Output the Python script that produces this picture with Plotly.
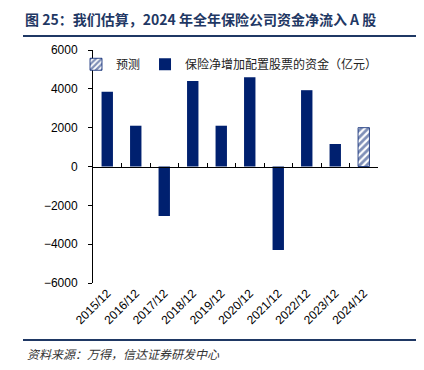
import plotly.graph_objects as go

categories = ["2015/12", "2016/12", "2017/12", "2018/12", "2019/12",
              "2020/12", "2021/12", "2022/12", "2023/12", "2024/12"]
actual_values = [3850, 2100, -2550, 4400, 2100, 4600, -4300, 3930, 1160, None]
forecast_values = [None, None, None, None, None, None, None, None, None, 2000]
y_ticks = [-6000, -4000, -2000, 0, 2000, 4000, 6000]

NAVY = "#00206F"
LINE_NAVY = "#1F3864"
CJK = "Noto Sans CJK SC"
LAT = "Liberation Sans"

# page body adds an 8px offset; lay out in a 416x362 frame
W, H = 416, 362
L, R, T, B = 85, 46, 42, 87
PW, PH = W - L - R, H - T - B

fig = go.Figure()
fig.add_trace(go.Bar(
    x=categories, y=forecast_values, name="预测", width=0.4,
    marker=dict(color="white", line=dict(color=NAVY, width=0.8),
                pattern=dict(shape="/", fgcolor=NAVY, bgcolor="white",
                             size=5, solidity=0.55)),
    legendrank=1,
))
fig.add_trace(go.Bar(
    x=categories, y=actual_values, name="保险净增加配置股票的资金（亿元）",
    width=0.4, marker=dict(color=NAVY, line=dict(width=0)),
    legendrank=2,
))
# helper trace so the zero-line axis (ticks between categories) is drawn
fig.add_trace(go.Scatter(x=[None], y=[None], xaxis="x2", showlegend=False,
                         hoverinfo="skip"))

ymin, ymax = y_ticks[0], y_ticks[-1]
zero_pos = (0 - ymin) / (ymax - ymin)
n = len(categories)

fig.update_layout(
    width=W, height=H,
    margin=dict(l=L, r=R, t=T, b=B, autoexpand=False),
    paper_bgcolor="white", plot_bgcolor="white",
    barmode="overlay",
    showlegend=True,
    legend=dict(orientation="h", x=(68 - L) / PW, xanchor="left",
                y=1.001, yanchor="top",
                font=dict(family=CJK, size=12, color="#222"),
                bgcolor="rgba(0,0,0,0)", traceorder="normal"),
    title=dict(text="<b>图 25：我们估算，2024 年全年保险公司资金净流入 A 股</b>",
               x=17 / W, xanchor="left", y=1 - 12 / H, yanchor="middle",
               font=dict(family=CJK, size=14, color=LINE_NAVY)),
    xaxis=dict(type="category", range=[-0.5, n - 0.5], showline=False,
               ticks="", tickangle=-45, showgrid=False, zeroline=False,
               automargin=False,
               tickfont=dict(family=LAT, size=12, color="black")),
    xaxis2=dict(overlaying="x", anchor="free", position=zero_pos,
                side="bottom", range=[-0.5, n - 0.5], showline=True,
                linecolor="black", linewidth=1, ticks="inside", ticklen=4,
                tickcolor="black", tickvals=[i + 0.5 for i in range(n)],
                showticklabels=False, showgrid=False, zeroline=False,
                automargin=False),
    yaxis=dict(range=[ymin, ymax], tickvals=y_ticks, showline=True,
               linecolor="black", linewidth=1, ticks="outside", ticklen=4,
               tickcolor="black", showgrid=False, zeroline=False,
               automargin=False,
               tickfont=dict(family=LAT, size=12, color="black"),
               ticklabelstandoff=8),
    shapes=[
        dict(type="line", xref="paper", yref="paper",
             x0=(15 - L) / PW, x1=(410 - L) / PW,
             y0=1 + (T - 28) / PH, y1=1 + (T - 28) / PH,
             line=dict(color=LINE_NAVY, width=2)),
        dict(type="line", xref="paper", yref="paper",
             x0=(15 - L) / PW, x1=(W - L) / PW,
             y0=-(332 - (H - B)) / PH, y1=-(332 - (H - B)) / PH,
             line=dict(color=LINE_NAVY, width=2)),
    ],
    annotations=[
        dict(text="<i>资料来源：万得，信达证券研发中心</i>", xref="paper",
             yref="paper", x=(17 - L) / PW, y=-(345 - (H - B)) / PH,
             xanchor="left", yanchor="middle", showarrow=False,
             font=dict(family=CJK, size=12, color="#333")),
    ],
)

fig.write_html("out.html")
